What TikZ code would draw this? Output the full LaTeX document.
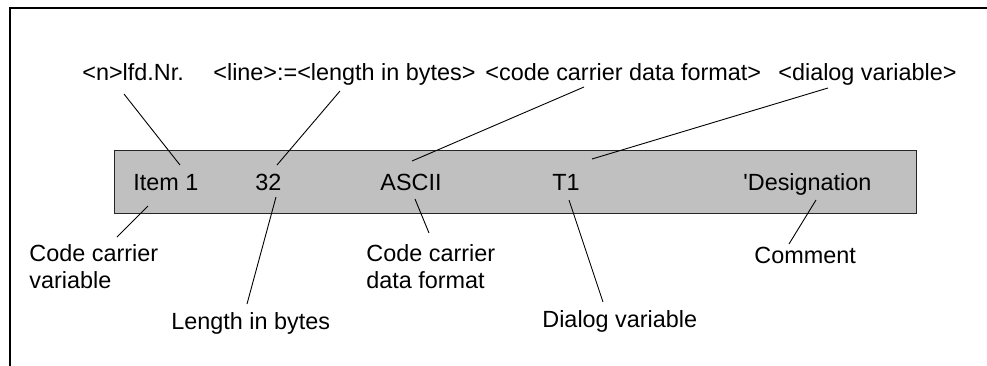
\documentclass[tikz,border=0pt]{standalone}
\usepackage{fontspec}
\setmainfont{Liberation Sans}
\definecolor{rowgray}{RGB}{192,192,192}
\begin{document}
\begin{tikzpicture}[x=0.5pt, y=-0.5pt,
	lbl/.style={inner sep=0pt, anchor=base west, align=left,
		font=\fontsize{11.7}{13.5}\selectfont},
	lead/.style={line width=0.45pt}]
\useasboundingbox (0,0) rectangle (987,365);
\draw[line width=1.25pt] (10,370) -- (10,8) -- (990,8);
\node[draw=black!85, fill=rowgray, line width=0.5pt, inner sep=0pt,
	minimum width=401pt, minimum height=31.5pt, anchor=north west]
	(row) at (114,150) {};
\node[lbl] (nr) at (82,80) {<n>lfd.Nr.};
\node[lbl] (len) at (213,80) {<line>:=<length in bytes>};
\node[lbl] (fmt) at (485,80) {<code carrier data format>};
\node[lbl] (dlg) at (778,80) {<dialog variable>};
\node[lbl] (item) at (133,190) {Item 1};
\node[lbl] (n32) at (255,190) {32};
\node[lbl] (ascii) at (380,190) {ASCII};
\node[lbl] (t1) at (552,190) {T1};
\node[lbl] (desig) at (743,190) {\textquotesingle Designation};
\node[lbl] (ccvar) at (29,288) {Code carrier\\variable};
\node[lbl] (bytes) at (171,329) {Length in bytes};
\node[lbl] (ccfmt) at (366,288) {Code carrier\\data format};
\node[lbl] (dvar) at (542,327) {Dialog variable};
\node[lbl] (cmt) at (754,263) {Comment};
\foreach \a/\sa/\b/\sb in {nr/{42,14}/item/{47,-25},
		len/{127,11}/n32/{22,-25}, fmt/{99,7}/ascii/{32,-29},
		dlg/{50,8}/t1/{40,-31}, item/{15,16}/ccvar/{88,-51},
		n32/{21,7}/bytes/{76,-25}, ascii/{35,9}/ccfmt/{63,-55},
		t1/{17,10}/dvar/{61,-25}, desig/{73,10}/cmt/{35,-19}}
	\draw[lead] ([shift={(\sa)}]\a.base west) -- ([shift={(\sb)}]\b.base west);
\end{tikzpicture}
\end{document}
